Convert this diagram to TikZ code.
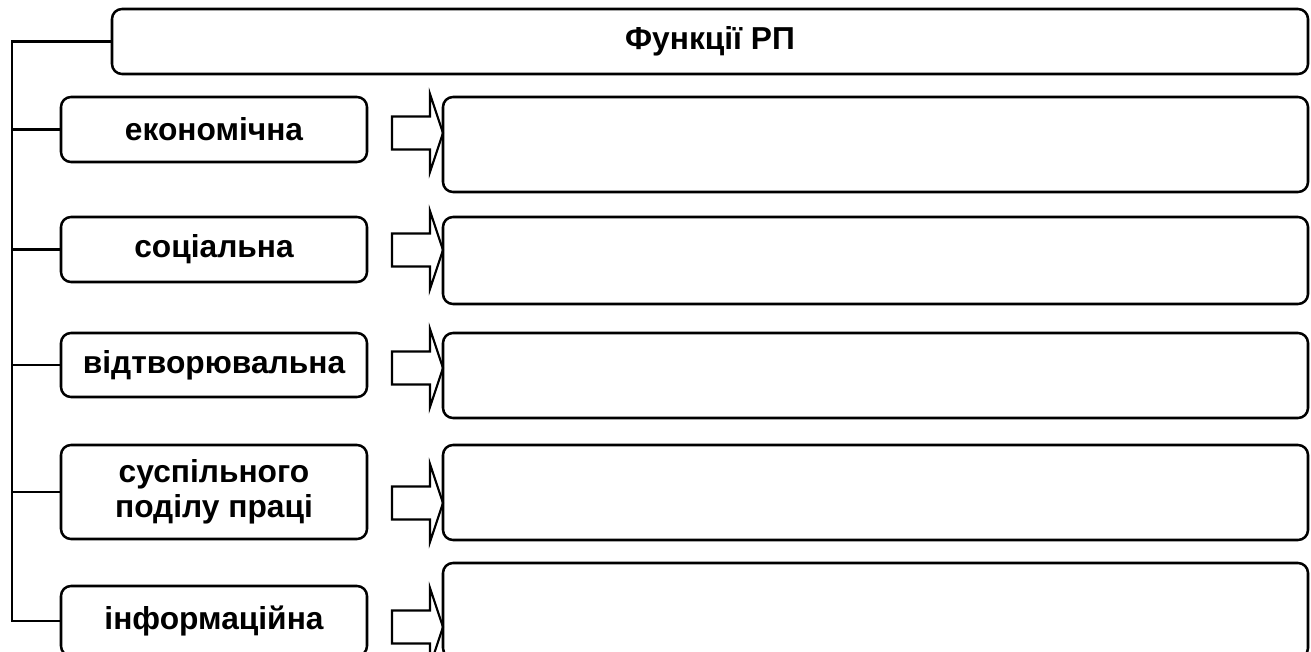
\documentclass[tikz,border=0pt]{standalone}
\usepackage{fontspec}
\setmainfont{Liberation Sans}
\begin{document}
\begin{tikzpicture}[x=0.75pt,y=-0.75pt,
  box/.style={draw, line width=1.9pt, rounded corners=7.5pt, inner sep=0pt,
    align=center, font=\fontsize{23.8}{26.5}\selectfont\bfseries},
  lbox/.style={box, minimum width=306*0.75pt},
  rbox/.style={box, minimum width=865*0.75pt},
  conn/.style={line width=2.1pt},
  branch/.style={line width=1.6pt},
  blockarrow/.pic={\draw[line width=1.6pt, line join=miter]
    (0,0) -- (-13,-39) -- (-13,-16.5) -- (-51,-16.5) -- (-51,16.5)
    -- (-13,16.5) -- (-13,39) -- cycle;}]
\useasboundingbox (0,0) rectangle (1311,652);
\node[box, minimum width=1196*0.75pt, minimum height=65*0.75pt] (top) at (710,41.5) {Функції РП};
\node[lbox, minimum height=65*0.75pt] (L1) at (214,129.5) {економічна};
\node[lbox, minimum height=65*0.75pt] (L2) at (214,249.5) {соціальна};
\node[lbox, minimum height=64*0.75pt] (L3) at (214,365) {відтворювальна};
\node[lbox, minimum height=94*0.75pt] (L4) at (214,492) {суспільного\\поділу праці};
\node[lbox, minimum height=70*0.75pt] (L5) at (214,621) {інформаційна};
\node[rbox, minimum height=95*0.75pt] (R1) at (875.5,144.5) {};
\node[rbox, minimum height=87*0.75pt] (R2) at (875.5,260.5) {};
\node[rbox, minimum height=85*0.75pt] (R3) at (875.5,375.5) {};
\node[rbox, minimum height=95*0.75pt] (R4) at (875.5,492.5) {};
\node[rbox, minimum height=95*0.75pt] (R5) at (875.5,610.5) {};
\coordinate (spine) at (12,0);
\draw[conn] (top.west) -- (top.west -| spine) -- (L5.west -| spine) -- (L5.west);
\foreach \n in {L1,L2,L3,L4} \draw[branch] (\n.west -| spine) -- (\n.west);
\pic at (443,133) {blockarrow};
\pic at (443,250) {blockarrow};
\pic at (443,368) {blockarrow};
\pic at (443,503) {blockarrow};
\pic at (443,627) {blockarrow};
\end{tikzpicture}
\end{document}
